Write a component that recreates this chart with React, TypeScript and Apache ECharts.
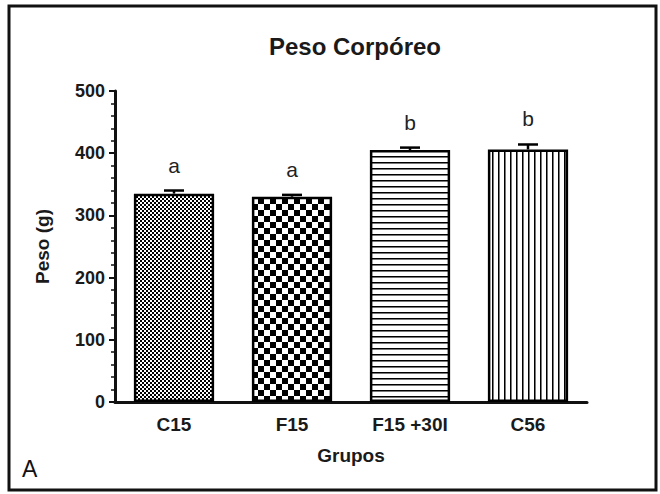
import React, { useEffect, useRef } from "react";
import * as echarts from "echarts";

const categories = ["C15", "F15", "F15 +30I", "C56"];
const means = [335, 330, 405, 406];
const sems = [5, 3, 4, 8];
const letters = ["a", "a", "b", "b"];
const yTicks = [0, 100, 200, 300, 400, 500];

const FONT = "'Liberation Sans', Arial, sans-serif";

function makeCanvas(w: number, h: number, draw: (c: CanvasRenderingContext2D) => void) {
  const cv = document.createElement("canvas");
  cv.width = w;
  cv.height = h;
  const ctx = cv.getContext("2d")!;
  ctx.fillStyle = "#fff";
  ctx.fillRect(0, 0, w, h);
  ctx.fillStyle = "#000";
  draw(ctx);
  return cv;
}

function patterns() {
  const fine = makeCanvas(4, 4, (c) => {
    c.fillRect(0, 0, 2, 2);
    c.fillRect(2, 2, 2, 2);
  });
  const coarse = makeCanvas(12, 12, (c) => {
    c.fillRect(0, 0, 6, 6);
    c.fillRect(6, 6, 6, 6);
  });
  const hlines = makeCanvas(6, 6, (c) => {
    c.fillRect(0, 0, 6, 1);
    c.fillStyle = "#777";
    c.fillRect(0, 1, 6, 1);
  });
  const vlines = makeCanvas(6, 6, (c) => {
    c.fillRect(0, 0, 1, 6);
    c.fillStyle = "#777";
    c.fillRect(1, 0, 1, 6);
  });
  return [fine, coarse, hlines, vlines].map((cv) => ({
    image: cv,
    repeat: "repeat",
    imageWidth: cv.width,
    imageHeight: cv.height,
  }));
}

export default function App() {
  const ref = useRef<HTMLDivElement>(null);
  useEffect(() => {
    document.body.style.margin = "0";
    const chart = echarts.init(ref.current!, null, { renderer: "svg" });
    const pats = patterns();
    const option: any = {
      animation: false,
      backgroundColor: "#fff",
      title: {
        text: "Peso Corpóreo",
        left: 350,
        top: 29,
        textAlign: "center",
        textStyle: { fontFamily: FONT, fontSize: 24, fontWeight: "bold", color: "#1a1a1a" },
      },
      graphic: [
        {
          type: "rect",
          shape: { x: 9, y: 6, width: 647, height: 484 },
          style: { fill: "none", stroke: "#111", lineWidth: 3 },
        },
        {
          type: "text",
          left: 22,
          top: 457,
          style: { text: "A", font: `23px ${FONT}`, fill: "#111" },
        },
      ],
      grid: { left: 115, right: 73, top: 91, bottom: 92 },
      xAxis: {
        type: "category",
        data: categories,
        name: "Grupos",
        nameLocation: "middle",
        nameGap: 44,
        nameTextStyle: { fontFamily: FONT, fontSize: 19, fontWeight: "bold", color: "#1a1a1a" },
        axisLine: { lineStyle: { color: "#111", width: 3 } },
        axisTick: { alignWithLabel: true, length: 6, lineStyle: { color: "#111", width: 2 } },
        axisLabel: { fontFamily: FONT, fontSize: 19, fontWeight: "bold", color: "#1a1a1a", margin: 13 },
      },
      yAxis: {
        type: "value",
        min: yTicks[0],
        max: yTicks[yTicks.length - 1],
        interval: 100,
        name: "Peso (g)",
        nameLocation: "middle",
        nameGap: 63,
        nameTextStyle: { fontFamily: FONT, fontSize: 19, fontWeight: "bold", color: "#1a1a1a" },
        axisLine: { show: true, lineStyle: { color: "#111", width: 3 } },
        axisTick: { show: true, length: 6, lineStyle: { color: "#111", width: 2 } },
        minorTick: { show: true, splitNumber: 5, length: 4, lineStyle: { color: "#111", width: 1.5 } },
        splitLine: { show: false },
        axisLabel: { fontFamily: FONT, fontSize: 18, fontWeight: "bold", color: "#1a1a1a", margin: 10 },
      },
      series: [
        {
          type: "bar",
          barWidth: "68%",
          data: means.map((v, i) => ({
            value: v,
            itemStyle: { color: pats[i], borderColor: "#000", borderWidth: 2.5 },
          })),
          z: 2,
        },
        {
          type: "custom",
          z: 3,
          data: means.map((v, i) => [i, v, sems[i]]),
          renderItem: (params: any, api: any) => {
            const i = api.value(0);
            const m = api.value(1);
            const e = api.value(2);
            const base = api.coord([i, m]);
            const top = api.coord([i, m + e]);
            const bw = api.size([1, 0])[0];
            const half = bw * 0.085;
            return {
              type: "group",
              children: [
                {
                  type: "line",
                  shape: { x1: base[0], y1: base[1], x2: top[0], y2: top[1] },
                  style: { stroke: "#000", lineWidth: 2.5 },
                },
                {
                  type: "line",
                  shape: { x1: top[0] - half, y1: top[1], x2: top[0] + half, y2: top[1] },
                  style: { stroke: "#000", lineWidth: 2.5 },
                },
                {
                  type: "text",
                  x: top[0],
                  y: top[1] - 15,
                  style: {
                    text: letters[params.dataIndex],
                    font: `21px ${FONT}`,
                    fill: "#222",
                    textAlign: "center",
                    textVerticalAlign: "bottom",
                  },
                },
              ],
            };
          },
        },
      ],
    };
    chart.setOption(option);
    return () => chart.dispose();
  }, []);
  return <div ref={ref} style={{ width: 660, height: 494 }} />;
}
